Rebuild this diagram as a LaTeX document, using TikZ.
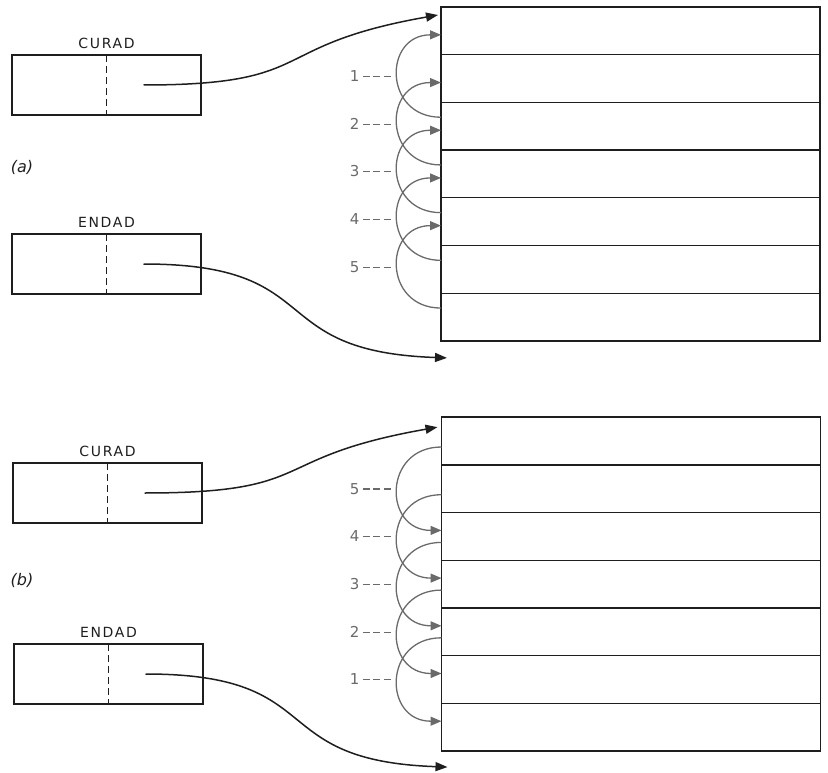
\documentclass[tikz,border=0pt]{standalone}
\usepackage{fontspec}
\setmainfont{DejaVu Sans}
\newfontfamily\lettering[LetterSpace=12]{DejaVu Sans}
\usepackage{tikz}
\usetikzlibrary{positioning, arrows.meta, calc}
\definecolor{ink}{HTML}{1E1E1E}
\definecolor{loopgray}{HTML}{6A6A6A}
\newcommand\gapdash{\hspace{3.5pt}\rule[4.5pt]{7pt}{1.2pt}}

\begin{document}
\begin{tikzpicture}[
  x=1pt, y=-1pt,
  every node/.style={font=\fontsize{14}{16}\selectfont},
  reg/.style={
    rectangle, draw=ink, line width=1.5pt,
    minimum width=189pt, minimum height=60pt,
    inner sep=0pt, outer sep=0pt,
  },
  cell/.style={
    rectangle, draw=ink, line width=1.4pt,
    minimum width=379pt, minimum height=47.7pt,
    inner sep=0pt, outer sep=0pt,
  },
  regname/.style={font=\fontsize{14}{16}\selectfont\lettering, text=ink, inner sep=1pt},
  divider/.style={draw=ink, line width=1.3pt, dash pattern=on 7pt off 4pt},
  ptr/.style={-{Triangle[length=12pt,width=9pt]}, line width=1.5pt, draw=ink},
  hop/.style={-{Triangle[length=11pt,width=9pt]}, line width=1.3pt, draw=loopgray,
    out=180, in=180, looseness=1.8},
  hoplabel/.style={font=\fontsize{15}{17}\selectfont, text=loopgray, left=6pt, inner sep=0pt},
  part/.style={font=\fontsize{16}{18}\selectfont\itshape, text=ink},
  node distance=0pt,
]
\useasboundingbox (0,0) rectangle (828,773);

% (a)
\node[reg] (cura) at (106.5,85) {};
\node[regname, above=5pt of cura] {CURAD};
\node[reg] (enda) at (106.5,264) {};
\node[regname, above=5pt of enda] {ENDAD};
\node[part] (parta) at (22,167) {(a)};
\draw[divider] (cura.north) -- (cura.south);
\draw[divider] (enda.north) -- (enda.south);
\coordinate (cura-p) at ([xshift=37pt]cura.center);
\coordinate (enda-p) at ([xshift=37pt]enda.center);

\node[cell] (ma1) at (630.5,30.85) {};
\node[cell, below=of ma1] (ma2) {};
\node[cell, below=of ma2] (ma3) {};
\node[cell, below=of ma3] (ma4) {};
\node[cell, below=of ma4] (ma5) {};
\node[cell, below=of ma5] (ma6) {};
\node[cell, below=of ma6] (ma7) {};

\draw[ptr] (cura-p) to[out=0, in=190, looseness=1.5] ([xshift=-3pt, yshift=-8pt]ma1.north west);
\draw[ptr] (enda-p) to[out=0, in=178, looseness=1.5] ([xshift=6pt, yshift=-17pt]ma7.south west);

\draw[hop] ([yshift=9pt]ma3.west) to node[hoplabel, midway] {1\gapdash\gapdash\gapdash} ([yshift=-4pt]ma1.west);
\draw[hop] ([yshift=9pt]ma4.west) to node[hoplabel, midway] {2\gapdash\gapdash\gapdash} ([yshift=-4pt]ma2.west);
\draw[hop] ([yshift=9pt]ma5.west) to node[hoplabel, midway] {3\gapdash\gapdash\gapdash} ([yshift=-4pt]ma3.west);
\draw[hop] ([yshift=9pt]ma6.west) to node[hoplabel, midway] {4\gapdash\gapdash\gapdash} ([yshift=-4pt]ma4.west);
\draw[hop] ([yshift=9pt]ma7.west) to node[hoplabel, midway] {5\gapdash\gapdash\gapdash} ([yshift=-4pt]ma5.west);

% (b)
\node[reg] (curb) at (107.5,493) {};
\node[regname, above=5pt of curb] {CURAD};
\node[reg] (endb) at (108.5,674) {};
\node[regname, above=5pt of endb] {ENDAD};
\node[part] (partb) at (22,580) {(b)};
\draw[divider] (curb.north) -- (curb.south);
\draw[divider] (endb.north) -- (endb.south);
\coordinate (curb-p) at ([xshift=37pt]curb.center);
\coordinate (endb-p) at ([xshift=37pt]endb.center);

\node[cell] (mb1) at (631,441) {};
\node[cell, below=of mb1] (mb2) {};
\node[cell, below=of mb2] (mb3) {};
\node[cell, below=of mb3] (mb4) {};
\node[cell, below=of mb4] (mb5) {};
\node[cell, below=of mb5] (mb6) {};
\node[cell, below=of mb6] (mb7) {};

\draw[ptr] (curb-p) to[out=0, in=190, looseness=1.5] ([xshift=-4pt, yshift=-10pt]mb1.north west);
\draw[ptr] (endb-p) to[out=0, in=178, looseness=1.5] ([xshift=6pt, yshift=-16pt]mb7.south west);

\draw[hop] ([yshift=-6pt]mb1.west) to node[hoplabel, midway] {5\gapdash\gapdash\gapdash} ([yshift=6pt]mb3.west);
\draw[hop] ([yshift=-6pt]mb2.west) to node[hoplabel, midway] {4\gapdash\gapdash\gapdash} ([yshift=6pt]mb4.west);
\draw[hop] ([yshift=-6pt]mb3.west) to node[hoplabel, midway] {3\gapdash\gapdash\gapdash} ([yshift=6pt]mb5.west);
\draw[hop] ([yshift=-6pt]mb4.west) to node[hoplabel, midway] {2\gapdash\gapdash\gapdash} ([yshift=6pt]mb6.west);
\draw[hop] ([yshift=-6pt]mb5.west) to node[hoplabel, midway] {1\gapdash\gapdash\gapdash} ([yshift=6pt]mb7.west);
\end{tikzpicture}
\end{document}
